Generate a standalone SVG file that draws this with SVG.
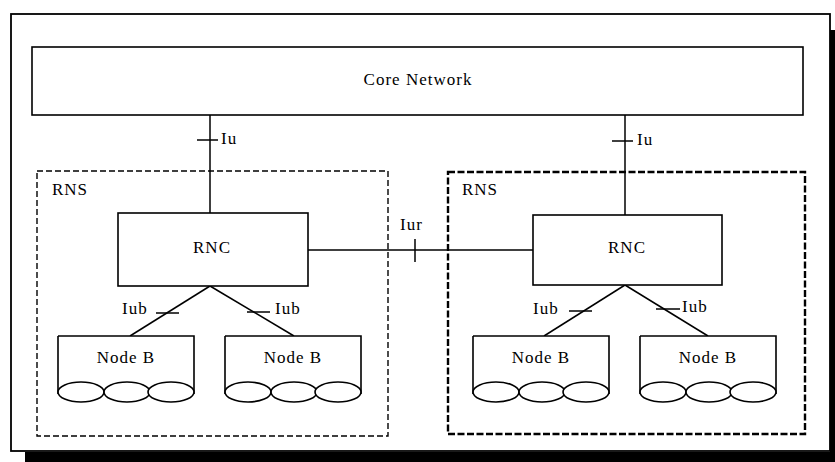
<svg xmlns="http://www.w3.org/2000/svg" width="835" height="462" viewBox="0 0 835 462">
<style>
.box{fill:#fff;stroke:#000;stroke-width:1.6}
.ln{stroke:#000;stroke-width:1.5;fill:none}
.t{font-family:"Liberation Serif","Times New Roman",serif;font-size:17px;fill:#000;letter-spacing:1px}
.rns1{fill:none;stroke:#000;stroke-width:1.4;stroke-dasharray:6 3}
.rns2{fill:none;stroke:#000;stroke-width:2.4;stroke-dasharray:7 2.5}
.cloud{fill:#fff;stroke:#000;stroke-width:1.6}
</style>
<defs>
<g id="nodeb">
<path class="box" d="M0,0 H136 V58 M0,58 V0"/>
<ellipse class="cloud" cx="23" cy="56" rx="23" ry="10"/>
<ellipse class="cloud" cx="69" cy="56" rx="23" ry="10"/>
<ellipse class="cloud" cx="113" cy="56" rx="23" ry="10"/>
<text class="t" x="68" y="27" text-anchor="middle">Node B</text>
</g>
</defs>
<rect width="835" height="462" fill="#fff"/>
<rect x="25" y="452" width="810" height="10" fill="#000"/>
<rect x="830" y="30" width="5" height="432" fill="#000"/>
<rect x="11" y="14" width="819" height="437" fill="#fff" stroke="#000" stroke-width="1.8"/>

<g id="core">
<rect class="box" x="32" y="47" width="771" height="68"/>
<text class="t" x="418" y="85" text-anchor="middle">Core Network</text>
</g>

<g id="rns-left">
<rect class="rns1" x="37" y="171" width="351" height="265"/>
<text class="t" x="52" y="195">RNS</text>
</g>
<g id="rns-right">
<rect class="rns2" x="448" y="172" width="357" height="262"/>
<text class="t" x="462" y="195">RNS</text>
</g>

<g id="connectors">
<line class="ln" x1="210" y1="115" x2="210" y2="213"/>
<line class="ln" x1="197" y1="140" x2="218" y2="140"/>
<text class="t" x="221" y="144">Iu</text>
<line class="ln" x1="625" y1="115" x2="625" y2="215"/>
<line class="ln" x1="612" y1="141" x2="633" y2="141"/>
<text class="t" x="637" y="145">Iu</text>

<line class="ln" x1="308" y1="250" x2="533" y2="250"/>
<line class="ln" x1="415" y1="239" x2="415" y2="262"/>
<text class="t" x="400" y="230">Iur</text>

<line class="ln" x1="210" y1="286" x2="130" y2="336"/>
<line class="ln" x1="210" y1="286" x2="294" y2="336"/>
<line class="ln" x1="156" y1="313" x2="179" y2="313"/>
<line class="ln" x1="247" y1="312" x2="270" y2="312"/>
<text class="t" x="122" y="314">Iub</text>
<text class="t" x="275" y="314">Iub</text>

<line class="ln" x1="625" y1="285" x2="544" y2="336"/>
<line class="ln" x1="625" y1="285" x2="708" y2="336"/>
<line class="ln" x1="569" y1="311" x2="592" y2="311"/>
<line class="ln" x1="656" y1="309" x2="680" y2="309"/>
<text class="t" x="533" y="314">Iub</text>
<text class="t" x="682" y="312">Iub</text>
</g>

<g id="rnc-left">
<rect class="box" x="118" y="213" width="190" height="73"/>
<text class="t" x="212" y="253" text-anchor="middle">RNC</text>
</g>
<g id="rnc-right">
<rect class="box" x="533" y="215" width="189" height="70"/>
<text class="t" x="627" y="253" text-anchor="middle">RNC</text>
</g>

<g id="nodeb-1"><use href="#nodeb" x="58" y="336"/></g>
<g id="nodeb-2"><use href="#nodeb" x="225" y="336"/></g>
<g id="nodeb-3"><use href="#nodeb" x="473" y="336"/></g>
<g id="nodeb-4"><use href="#nodeb" x="640" y="336"/></g>
</svg>
